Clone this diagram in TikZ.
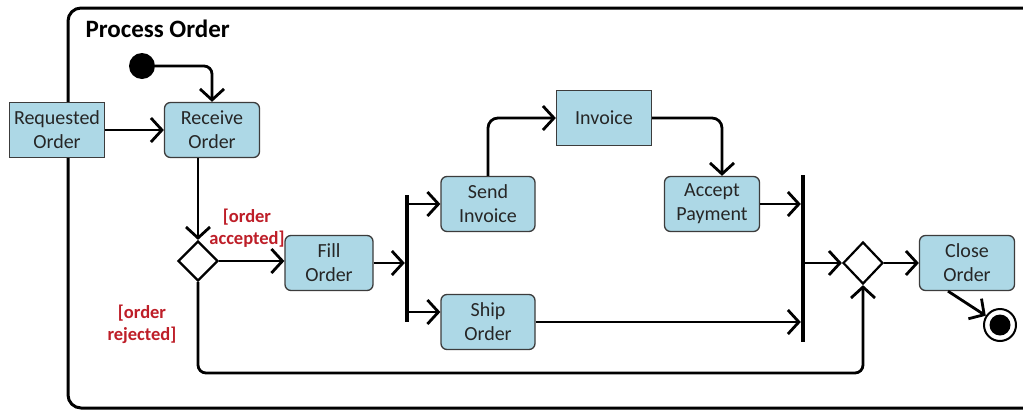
\documentclass[tikz,border=0pt]{standalone}
\usepackage{fontspec}
\setmainfont{Carlito}
\usetikzlibrary{arrows.meta,shapes.geometric,calc}
\definecolor{boxblue}{RGB}{173,216,230}
\definecolor{boxedge}{RGB}{60,60,60}
\definecolor{guardred}{RGB}{190,30,40}
\tikzset{
  act/.style={draw=boxedge,line width=1.3pt,fill=boxblue,rounded corners=6pt,minimum width=95pt,minimum height=55pt,inner sep=0pt,align=center,font=\fontsize{20}{24}\selectfont,text=black!85},
  obj/.style={act,rounded corners=0pt},
  bar/.style={fill=black,draw=none,minimum width=4pt,inner sep=0pt},
  dia/.style={diamond,draw=black,line width=2.2pt,fill=white,inner sep=0pt,minimum width=40pt,minimum height=40pt},
  flow/.style={line width=2.8pt,-{Straight Barb[length=11pt,width=24pt,line width=2.8pt]}},
  guard/.style={text=guardred,font=\bfseries\fontsize{18.5}{22}\selectfont,align=center},
}
\begin{document}
\begin{tikzpicture}[x=1pt,y=-1pt]
\useasboundingbox (0,0) rectangle (1023,410);
\fill[white] (0,0) rectangle (1023,410);
% frame
\draw[line width=3pt,rounded corners=13pt] (68,408) -- (68,8) -- (1040,8) -- (1040,408) -- cycle;
\node[anchor=west,font=\bfseries\fontsize{25}{28}\selectfont] (title) at (82,29) {Process Order};

\node[circle,fill=black,minimum size=26pt,inner sep=0pt] (init) at (142,66) {};
\node[obj] (req) at (57,130) {Requested\\Order};
\node[act] (recv) at (212,130) {Receive\\Order};
\node[dia] (dec) at (198,261) {};
\node[act,minimum width=88pt] (fill) at (329,263) {Fill\\Order};
\node[bar,minimum height=127pt] (fork) at (407,258) {};
\node[act,minimum width=94pt] (send) at (488,204) {Send\\Invoice};
\node[act,minimum width=94pt] (ship) at (488,322) {Ship\\Order};
\node[obj] (inv) at (604,118) {Invoice};
\node[act] (acc) at (712,204) {Accept\\Payment};
\node[bar,minimum height=167pt] (join) at (803,258.5) {};
\node[dia,minimum height=42pt] (merge) at (863,263) {};
\node[act] (close) at (967,263) {Close\\Order};
\node[circle,draw=black,line width=2pt,fill=white,minimum size=32pt,inner sep=0pt] (final) at (1000,325) {};
\fill[black] (final.center) circle (10.5pt);

\node[guard] (ga) at (247,228) {[order\\accepted]};
\node[guard] (gr) at (142,324) {[order\\rejected]};

\draw[flow,rounded corners=8pt] (init.east) -| (recv.north);
\draw[flow] (req.east) -- (recv.west);
\draw[flow] (dec.north |- recv.south) -- (dec.north);
\draw[flow] (dec.east) -- (dec.east -| fill.west);
\draw[flow] (fill.east) -- (fill.east -| fork.west);
\draw[flow] (fork.east |- send.west) -- (send.west);
\draw[flow] ($(fork.east |- ship.west)+(0,-10)$) -- ($(ship.west)+(0,-10)$);
\draw[flow,rounded corners=10pt] (send.north) |- (inv.west);
\draw[flow,rounded corners=10pt] (inv.east) -| ($(acc.north)+(10,0)$);
\draw[flow] (acc.east) -- (acc.east -| join.west);
\draw[flow] (ship.east) -- (ship.east -| join.west);
\draw[flow] (join.east |- merge.west) -- (merge.west);
\coordinate (low) at (530,373);
\draw[flow,rounded corners=8pt] (dec.south) |- (low) -| (merge.south);
\draw[flow] (merge.east) -- (close.west);
\draw[flow] ($(close.south)+(-19,0)$) -- (final);
\end{tikzpicture}
\end{document}
